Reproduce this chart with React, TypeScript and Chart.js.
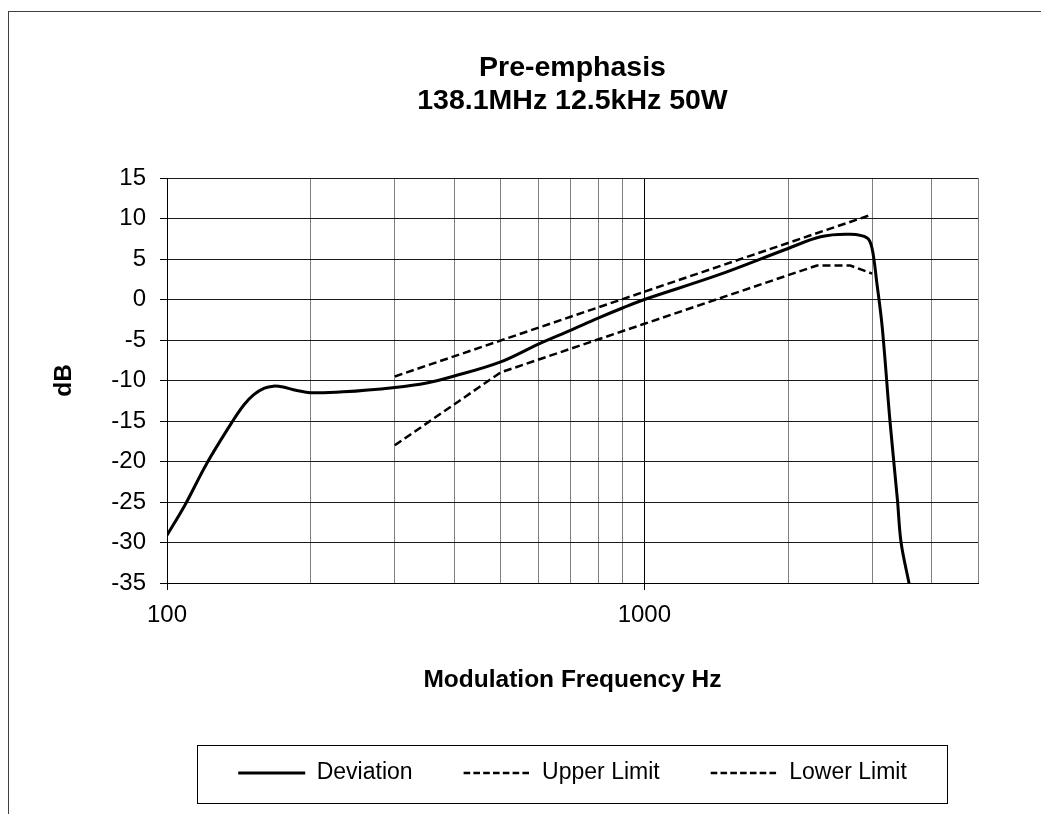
import React, { useEffect, useRef } from "react";
import { Chart, registerables } from "chart.js";

Chart.register(...registerables);

// ---------- data ----------
const TITLE_LINES = ["Pre-emphasis", "138.1MHz 12.5kHz 50W"];
const X_TITLE = "Modulation Frequency Hz";
const Y_TITLE = "dB";
const SERIES_NAMES = ["Deviation", "Upper Limit", "Lower Limit"];

const FREQ_TICKS = [100, 200, 300, 400, 500, 600, 700, 800, 900, 1000, 2000, 3000, 4000, 5000];
const LABELED_FREQ_TICKS = [100, 1000];
const X_MIN = 100;
const X_MAX = 5000;
const Y_MIN = -35;
const Y_MAX = 15;
const Y_STEP = 5;

const DEVIATION_FREQ = [100, 109, 121, 137, 145, 152, 160, 167, 175, 184, 200, 234, 300, 350, 400, 500, 600, 700, 800, 900, 1000, 1424, 2000, 2340, 2700, 2930, 3000, 3070, 3150, 3270, 3390, 3450, 3590];
const DEVIATION_DB = [-29.1, -25.4, -20.3, -15.1, -13.0, -11.75, -10.95, -10.7, -10.8, -11.15, -11.5, -11.4, -10.85, -10.3, -9.45, -7.7, -5.5, -3.8, -2.3, -1.05, 0, 3.0, 6.3, 7.75, 8.05, 7.6, 6.3, 2.0, -3.4, -15, -24.75, -30, -35.2];

const UPPER_FREQ = [300, 3000];
const UPPER_DB = [-9.5, 10.5];

const LOWER_FREQ = [300, 500, 1000, 2000, 2300, 2700, 3000];
const LOWER_DB = [-18, -9, -3, 3, 4.2, 4.2, 3.2];

const LEGEND_DASH = [6.6, 3.2];

const toPoints = (xs: number[], ys: number[]) => xs.map((x, i) => ({ x, y: ys[i] }));

const legendFrame = {
  id: "legendFrame",
  afterDraw(chart: any) {
    const lg = chart.legend;
    if (!lg) return;
    const ca = chart.chartArea;
    const ctx = chart.ctx;
    ctx.save();
    ctx.strokeStyle = "#000";
    ctx.lineWidth = 1;
    ctx.setLineDash([]);
    ctx.strokeRect(Math.round(ca.left + 30) + 0.5, Math.round(lg.top + 34.5) + 0.5, 750, 58);
    ctx.restore();
  },
};

export default function App() {
  const ref = useRef<HTMLCanvasElement | null>(null);

  useEffect(() => {
    if (!ref.current) return;
    Chart.defaults.font.family = "'Liberation Sans', Arial, sans-serif";
    const chart = new Chart(ref.current, {
      type: "line",
      data: {
        datasets: [
          {
            label: SERIES_NAMES[0],
            data: toPoints(DEVIATION_FREQ, DEVIATION_DB),
            borderColor: "#000",
            backgroundColor: "#000",
            borderWidth: 3,
            pointRadius: 0,
            tension: 0.35,
            fill: false,
          },
          {
            label: SERIES_NAMES[1],
            data: toPoints(UPPER_FREQ, UPPER_DB),
            borderColor: "#000",
            backgroundColor: "#000",
            borderWidth: 2.5,
            borderDash: [8, 4],
            pointRadius: 0,
            tension: 0,
            fill: false,
          },
          {
            label: SERIES_NAMES[2],
            data: toPoints(LOWER_FREQ, LOWER_DB),
            borderColor: "#000",
            backgroundColor: "#000",
            borderWidth: 2.5,
            borderDash: [8, 4],
            pointRadius: 0,
            tension: 0,
            fill: false,
          },
        ],
      },
      options: {
        responsive: false,
        animation: false,
        events: [],
        layout: { padding: { left: 0, right: 63, top: 0, bottom: 19.5 } },
        plugins: {
          title: {
            display: true,
            text: TITLE_LINES,
            fullSize: false,
            color: "#000",
            font: { size: 28.5, weight: "bold", lineHeight: 33 / 28.5 },
            padding: { top: 39.5, bottom: 60.5 },
          },
          legend: {
            display: true,
            position: "bottom",
            fullSize: false,
            labels: {
              usePointStyle: true,
              pointStyle: "line",
              pointStyleWidth: 67,
              padding: 51,
              color: "#000",
              font: { size: 23 },
              generateLabels: (c: any) => {
                const items = Chart.defaults.plugins.legend.labels.generateLabels(c);
                items.forEach((it: any) => {
                  const ds: any = c.data.datasets[it.datasetIndex];
                  it.lineWidth = ds.borderWidth;
                  it.strokeStyle = ds.borderColor;
                  it.fillStyle = ds.borderColor;
                  it.lineDash = ds.borderDash ? LEGEND_DASH : [];
                });
                return items;
              },
            },
          },
          tooltip: { enabled: false },
        },
        scales: {
          x: {
            type: "logarithmic",
            min: X_MIN,
            max: X_MAX,
            afterBuildTicks: (s: any) => {
              s.ticks = FREQ_TICKS.map((v) => ({ value: v }));
            },
            afterFit: (s: any) => {
              s.height = 127.5;
            },
            ticks: {
              autoSkip: false,
              maxRotation: 0,
              minRotation: 0,
              padding: 11,
              color: "#000",
              font: { size: 24 },
              callback: (v: any) => (LABELED_FREQ_TICKS.includes(Number(v)) ? String(v) : ""),
            },
            grid: {
              color: (c: any) => (c.tick && LABELED_FREQ_TICKS.includes(c.tick.value) ? "#000" : "#808080"),
              tickColor: (c: any) => (c.tick && LABELED_FREQ_TICKS.includes(c.tick.value) ? "#000" : "rgba(0,0,0,0)"),
              lineWidth: 1,
              tickLength: 7,
            },
            border: { display: true, color: "#000" },
            title: {
              display: true,
              text: X_TITLE,
              color: "#000",
              font: { size: 24.5, weight: "bold" },
              padding: { top: 0, bottom: 16 },
            },
          },
          y: {
            type: "linear",
            min: Y_MIN,
            max: Y_MAX,
            afterFit: (s: any) => {
              s.width = 158;
            },
            ticks: {
              stepSize: Y_STEP,
              padding: 14,
              color: "#000",
              font: { size: 24 },
            },
            grid: {
              color: "#1a1a1a",
              tickColor: "#000",
              lineWidth: 1,
              tickLength: 7,
            },
            border: { display: true, color: "#000" },
            title: {
              display: true,
              text: Y_TITLE,
              color: "#000",
              font: { size: 24.5, weight: "bold" },
              padding: { top: 41, bottom: 0 },
            },
          },
        },
      },
      plugins: [legendFrame],
    } as any);
    return () => chart.destroy();
  }, []);

  return (
    <div
      style={{
        position: "fixed",
        left: 8,
        top: 11,
        width: 1100,
        height: 900,
        borderTop: "1px solid #404040",
        borderLeft: "1px solid #404040",
        background: "#fff",
        overflow: "hidden",
      }}
    >
      <canvas ref={ref} width={1032} height={802} style={{ display: "block", width: 1032, height: 802 }} />
    </div>
  );
}
